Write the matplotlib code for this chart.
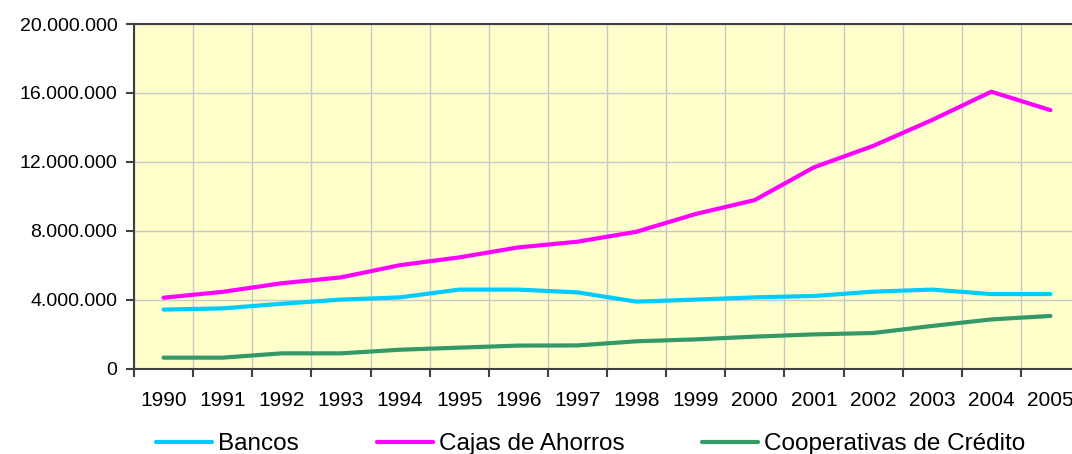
import numpy as np
import matplotlib
matplotlib.use("Agg")
import matplotlib.pyplot as plt
from matplotlib.ticker import FuncFormatter

plt.rcParams['font.family'] = ['Liberation Sans', 'DejaVu Sans']

years = [str(y) for y in range(1990, 2006)]
bancos = [3.42, 3.49, 3.76, 4.00, 4.13, 4.58, 4.58, 4.42, 3.88, 4.00,
          4.13, 4.21, 4.46, 4.58, 4.32, 4.32]
cajas = [4.11, 4.45, 4.95, 5.29, 6.00, 6.45, 7.03, 7.36, 7.94, 8.97,
         9.78, 11.68, 12.92, 14.43, 16.07, 15.00]
cooperativas = [0.63, 0.63, 0.88, 0.88, 1.09, 1.21, 1.33, 1.34, 1.58, 1.69,
                1.85, 1.98, 2.06, 2.47, 2.85, 3.05]

series = [
    ("Bancos", bancos, "#00CCFF"),
    ("Cajas de Ahorros", cajas, "#FF00FF"),
    ("Cooperativas de Crédito", cooperativas, "#339966"),
]

fig = plt.figure(figsize=(10.72, 4.54), dpi=100)
ax = fig.add_axes([134/1072, 85.5/454, 946/1072, 344.5/454])
ax.set_facecolor("#FFFFCC")

x = np.arange(len(years))
for name, vals, col in series:
    ax.plot(x, np.array(vals) * 1e6, color=col, lw=3.0, label=name,
            solid_capstyle="round", solid_joinstyle="round")

ax.set_xlim(-0.5, len(years) - 0.5)
ax.set_ylim(0, 20e6)
ax.set_yticks(np.arange(0, 20e6 + 1, 4e6))
ax.yaxis.set_major_formatter(FuncFormatter(lambda v, p: f"{int(v):,}".replace(",", ".")))

# category boundaries carry ticks and grid, labels sit at centres
ax.set_xticks(np.arange(-0.5, len(years)))
ax.set_xticklabels([])
ax.set_xticks(x, minor=True)
ax.set_xticklabels(years, minor=True)
ax.tick_params(axis="x", which="minor", length=0, pad=16, labelsize=15)
ax.tick_params(axis="x", which="major", length=6, width=1.5, color="#404040", direction="out")
ax.tick_params(axis="y", length=6, width=1.5, color="#404040", direction="out", pad=6, labelsize=14)

ax.grid(True, which="major", color="#C8C8C8", lw=1.0)
ax.set_axisbelow(True)
for s in ax.spines.values():
    s.set_color("#404040")
    s.set_linewidth(1.5)

fig.legend(loc="center", bbox_to_anchor=(591/1072, 10/454), ncol=3, frameon=False,
           fontsize=17.5, handlelength=2.3, handletextpad=0.25, columnspacing=3.2)

fig.savefig("out.png", dpi=100)
